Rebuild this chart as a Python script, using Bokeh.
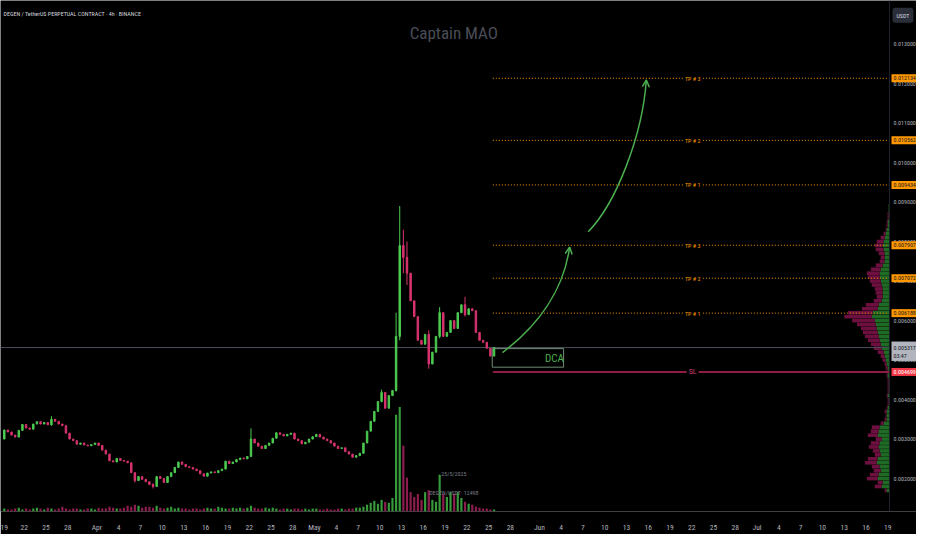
import pandas as pd
from bokeh.plotting import figure
from bokeh.models import (Range1d, FixedTicker, CustomJSTickFormatter, Label, Arrow, OpenHead, Span)
from bokeh.core.properties import value
from bokeh.embed import file_html
from bokeh.resources import INLINE

FONT = "Roboto Condensed, DejaVu Sans Condensed, Liberation Sans Narrow, Roboto, sans-serif"

def ms(s):
    return pd.Timestamp(s).value // 10**6

# ---------------- data ----------------
first_open = 0.00300
candle_start = "2025-03-19 00:00"          # 12h candles
closes = [0.00323, 0.00318, 0.00310, 0.00305, 0.00322, 0.00337, 0.00328, 0.00325, 0.00338, 0.00344,
          0.00338, 0.00342, 0.00336, 0.00350, 0.00345, 0.00338, 0.00334, 0.00315, 0.00300, 0.00296,
          0.00287, 0.00290, 0.00285, 0.00283, 0.00286, 0.00290, 0.00284, 0.00272, 0.00262, 0.00245,
          0.00242, 0.00251, 0.00246, 0.00244, 0.00240, 0.00215, 0.00195, 0.00205, 0.00198, 0.00192,
          0.00185, 0.00180, 0.00205, 0.00200, 0.00190, 0.00205, 0.00215, 0.00228, 0.00242, 0.00236,
          0.00230, 0.00228, 0.00224, 0.00220, 0.00212, 0.00206, 0.00214, 0.00217, 0.00215, 0.00220,
          0.00224, 0.00244, 0.00238, 0.00242, 0.00248, 0.00252, 0.00250, 0.00256, 0.00300, 0.00290,
          0.00282, 0.00276, 0.00284, 0.00290, 0.00302, 0.00316, 0.00312, 0.00308, 0.00312, 0.00315,
          0.00300, 0.00296, 0.00288, 0.00292, 0.00300, 0.00306, 0.00312, 0.00305, 0.00300, 0.00296,
          0.00290, 0.00282, 0.00276, 0.00278, 0.00268, 0.00262, 0.00254, 0.00258, 0.00264, 0.00290,
          0.00320, 0.00345, 0.00370, 0.00395, 0.00418, 0.00378, 0.00410, 0.00423, 0.00560, 0.00790,
          0.00760, 0.00720, 0.00650, 0.00610, 0.00550, 0.00540, 0.00565, 0.00490, 0.00520, 0.00560,
          0.00620, 0.00560, 0.00570, 0.00600, 0.00580, 0.00620, 0.00640, 0.00615, 0.00630, 0.00625,
          0.00570, 0.00550, 0.00545, 0.00530, 0.00510, 0.005317]
volumes_m = [3, 2, 2, 3, 4, 2, 3, 2, 3, 4, 3, 2, 4, 3, 2, 3, 5, 3, 2, 3, 3, 2,
             2, 3, 3, 2, 4, 3, 3, 5, 4, 3, 3, 4, 6, 5, 7, 6, 4, 5, 5, 4, 6, 4,
             3, 4, 5, 3, 4, 3, 3, 2, 3, 3, 2, 3, 4, 3, 3, 5, 4, 3, 3, 4, 3, 4,
             3, 4, 6, 4, 3, 3, 4, 3, 4, 3, 2, 3, 3, 2, 3, 3, 2, 3, 2, 3, 3, 2,
             2, 3, 2, 2, 3, 3, 2, 3, 3, 4, 4, 5,
             7, 9, 11, 8, 12, 10, 9, 14,
             100, 108, 68, 35, 20, 15, 18, 12, 20, 22, 12, 10, 38, 18, 15, 20, 18, 20,
             14, 10, 8, 7, 5, 4, 3, 3, 2, 2]
wick_idx = [13, 36, 41, 68, 104, 108, 109, 110, 111, 117, 120, 127]
wick_hi = [0.00358, 0.00215, 0.00188, 0.00327, 0.00425, 0.00620, 0.00890, 0.00830, 0.00800, 0.00575, 0.00634, 0.00660]
wick_lo = [0.00334, 0.00190, 0.00175, 0.00255, 0.00393, 0.00420, 0.00550, 0.00720, 0.00690, 0.00478, 0.00555, 0.00610]

# volume profile (price bins of 0.0001)
vp_first, vp_step = 0.0017, 0.0001
vp_up = [3, 8, 7, 12, 11, 9, 10, 13, 12, 9,
         10, 11, 10, 8, 12, 11, 10, 6, 3, 3,
         3, 2, 1, 1, 2, 1, 1, 1, 1, 2,
         2, 2, 3, 4, 5, 6, 8, 9, 10, 11,
         12, 13, 14, 15, 18, 17, 12, 11, 8, 7,
         7, 7, 8, 9, 10, 10, 9, 7, 5, 5,
         5, 6, 7, 6, 5, 4, 3, 2, 2, 1,
         1, 1, 1]
vp_down = [2, 7, 5, 11, 9, 7, 8, 12, 10, 6,
           7, 10, 9, 6, 10, 8, 8, 3, 2, 1,
           2, 1, 1, 1, 1, 1, 1, 1, 1, 1,
           1, 2, 2, 3, 4, 6, 8, 10, 12, 14,
           15, 16, 19, 23, 28, 25, 16, 13, 8, 6,
           7, 8, 10, 11, 12, 13, 10, 7, 5, 4,
           6, 8, 8, 7, 4, 2, 1, 1, 1, 1,
           1, 0, 0]

tp_levels = [0.012134, 0.010562, 0.009434, 0.007907, 0.007072, 0.006188]
tp_names = ["TP # 3", "TP # 2", "TP # 1", "TP # 3", "TP # 2", "TP # 1"]
sl_level = 0.004699
last_price = 0.005317
countdown = "03:47"
levels_start = "2025-05-25 14:00"
level_label_at = "2025-06-22 03:00"
dca_box = {"left": "2025-05-25 12:00", "right": "2025-06-04 08:00", "top": 0.00529, "bottom": 0.00482}
dca_text_at = ("2025-06-03 02:00", 0.00505)

arc_x0 = ["2025-05-26 22:00", "2025-06-07 17:30"]
arc_y0 = [0.00519, 0.00825]
arc_cx0 = ["2025-05-31 16:00", "2025-06-11 12:45"]
arc_cy0 = [0.00585, 0.00896]
arc_cx1 = ["2025-06-04 08:00", "2025-06-15 04:45"]
arc_cy1 = [0.00675, 0.01067]
arc_x1 = ["2025-06-05 04:00", "2025-06-15 17:45"]
arc_y1 = [0.00786, 0.01209]

price_ticks = [0.002, 0.003, 0.004, 0.005, 0.006, 0.007, 0.008, 0.009, 0.010, 0.011, 0.012, 0.013]
tick_months = [3, 4, 5, 6, 7]
tick_days = [1, 4, 7, 10, 13, 16, 19, 22, 25, 28]
month_names = ["Jan", "Feb", "Mar", "Apr", "May", "Jun", "Jul", "Aug", "Sep", "Oct", "Nov", "Dec"]

title_text = "DEGEN / TetherUS PERPETUAL CONTRACT · 4h · BINANCE"
watermark = "Captain MAO"
vol_date_text = "25/5/2025"
vol_sym_text = "DEGEN/USDT: 12498"

# ---------------- colors ----------------
UP, DOWN = "#4ccb50", "#d8336f"
VUP, VDOWN = "#369a3a", "#8e1d4f"
PUP, PDOWN = "#1f6a25", "#6d1040"
ORANGE = "#ff9800"
ARROW = "#4caf50"
AXIS_TXT = "#b2b5be"

# ---------------- derived ----------------
x_start = ms("2025-03-18 17:30")
x_chart_end = ms("2025-07-19 06:00")     # right edge of the candle area
x_full_end = ms("2025-07-22 23:20")      # includes the price-scale strip
HALF = 12 * 3600 * 1000
base = ms(candle_start)
times = [base + i * HALF + HALF // 2 for i in range(len(closes))]
opens = [first_open] + closes[:-1]
is_up = [c >= o for o, c in zip(opens, closes)]
body_top = [max(o, c) for o, c in zip(opens, closes)]
body_bot = [min(o, c) for o, c in zip(opens, closes)]
ccol = [UP if u else DOWN for u in is_up]
vcol = [VUP if u else VDOWN for u in is_up]
vp_price = [round(vp_first + vp_step * k, 4) for k in range(len(vp_up))]
vp_total = [u + d for u, d in zip(vp_up, vp_down)]

p = figure(width=916, height=534, x_range=Range1d(x_start, x_full_end),
           y_range=Range1d(0.0011665, 0.0141025), y_axis_location=None,
           output_backend="svg", toolbar_location=None,
           background_fill_color="#000000", border_fill_color="#000000", outline_line_color=None,
           min_border_left=0, min_border_top=0, min_border_right=0, min_border_bottom=18)
p.grid.visible = False
p.extra_y_ranges = {"vol": Range1d(0, 528)}
p.extra_x_ranges = {"vp": Range1d(903, -27.4)}

# volume
p.vbar(x=times, width=HALF * 0.6, top=volumes_m, bottom=0, y_range_name="vol",
       fill_color=vcol, line_color=None)
# volume profile
p.hbar(y=vp_price, height=vp_step * 0.92, left=0, right=vp_up, x_range_name="vp",
       fill_color=PUP, line_color=None)
p.hbar(y=vp_price, height=vp_step * 0.92, left=vp_up, right=vp_total, x_range_name="vp",
       fill_color=PDOWN, line_color=None)

# separator of the price scale
p.add_layout(Span(location=x_chart_end, dimension="height", line_color="#1e222d", line_width=1))

# last price line
p.segment(x0=[x_start], y0=[last_price], x1=[x_chart_end], y1=[last_price],
          line_color="#4a4e59", line_width=1)

# candles
wx = [times[i] for i in wick_idx]
wc = [ccol[i] for i in wick_idx]
p.segment(x0=wx, y0=wick_lo, x1=wx, y1=wick_hi, line_color=wc, line_width=1)
p.vbar(x=times, width=HALF * 0.4, top=body_top, bottom=body_bot, fill_color=ccol, line_color=ccol,
       line_width=1)

# TP levels
ls = ms(levels_start)
p.segment(x0=[ls] * len(tp_levels), y0=tp_levels, x1=[x_chart_end] * len(tp_levels), y1=tp_levels,
          line_color=ORANGE, line_dash="1 2", line_width=1)
for lv, nm in zip(tp_levels, tp_names):
    p.add_layout(Label(x=ms(level_label_at), y=lv, text=nm, text_align="center", text_baseline="middle",
                       text_font=FONT, text_font_size="6px", text_color=ORANGE,
                       background_fill_color="#000000", padding=2))
# SL
p.segment(x0=[ls], y0=[sl_level], x1=[x_chart_end], y1=[sl_level], line_color="#8c1c45", line_width=2)
p.add_layout(Label(x=ms(level_label_at), y=sl_level, text="SL", text_align="center", text_baseline="middle",
                   text_font=FONT, text_font_size="8px", text_color="#d0406e",
                   background_fill_color="#000000", padding=2))

# DCA box
p.quad(left=[ms(dca_box["left"])], right=[ms(dca_box["right"])], top=[dca_box["top"]],
       bottom=[dca_box["bottom"]], fill_alpha=0, line_color="#6e8f76", line_width=1)
p.add_layout(Label(x=ms(dca_text_at[0]), y=dca_text_at[1], text="DCA", text_align="center",
                   text_baseline="middle", text_font=FONT, text_font_size="11px", text_color=ARROW))

# arcs + heads
p.bezier(x0=[ms(v) for v in arc_x0], y0=arc_y0, x1=[ms(v) for v in arc_x1], y1=arc_y1,
         cx0=[ms(v) for v in arc_cx0], cy0=arc_cy0, cx1=[ms(v) for v in arc_cx1], cy1=arc_cy1,
         line_color=ARROW, line_width=1.5)
for k in range(len(arc_x0)):
    p.add_layout(Arrow(end=OpenHead(size=7, line_color=ARROW, line_width=1.5),
                       x_start=ms(arc_cx1[k]), y_start=arc_cy1[k], x_end=ms(arc_x1[k]), y_end=arc_y1[k],
                       line_alpha=0))

# texts
p.add_layout(Label(x=x_start, x_offset=3, y=0.01378, text=title_text, text_align="left",
                   text_baseline="middle", text_font=FONT, text_font_size="6px", text_color="#d1d4dc"))
p.add_layout(Label(x=ms("2025-05-20 05:00"), y=0.01329, text=watermark, text_align="center",
                   text_baseline="middle", text_font=FONT, text_font_size="17px", text_color="#4a4d57"))
p.add_layout(Label(x=ms("2025-05-20 05:00"), y=0.00212, text=vol_date_text, text_align="center",
                   text_baseline="middle", text_font=FONT, text_font_size="6px", text_color="#787b86"))
p.add_layout(Label(x=ms("2025-05-20 05:00"), y=0.00166, text=vol_sym_text, text_align="center",
                   text_baseline="middle", text_font=FONT, text_font_size="6px", text_color="#787b86"))

# price scale labels
p.text(x=[x_chart_end] * len(price_ticks), y=price_ticks, text=[f"{t:.6f}" for t in price_ticks],
       x_offset=4, text_align="left", text_baseline="middle", text_font=value(FONT),
       text_font_size="6px", text_color=AXIS_TXT)

# price tags on the scale
for lv in tp_levels:
    p.add_layout(Label(x=x_chart_end, x_offset=2, y=lv, text=f"{lv:.6f}", text_align="left",
                       text_baseline="middle", text_font=FONT, text_font_size="6px", text_color="#131722",
                       background_fill_color=ORANGE, padding=2))
p.add_layout(Label(x=x_chart_end, x_offset=2, y=sl_level, text=f"{sl_level:.6f}", text_align="left",
                   text_baseline="middle", text_font=FONT, text_font_size="6px", text_color="#ffffff",
                   background_fill_color="#f23645", padding=2))
p.add_layout(Label(x=x_chart_end, x_offset=2, y=last_price, y_offset=6, text=f"{last_price:.6f}\n{countdown}",
                   text_align="left", text_baseline="top", text_font=FONT, text_font_size="6px",
                   text_color="#131722", background_fill_color="#b2b5be", padding=2))
p.add_layout(Label(x=x_chart_end, x_offset=3, y=0.01373, text="USDT", text_align="left", text_baseline="middle",
                   text_font=FONT, text_font_size="6px", text_color="#d1d4dc",
                   background_fill_color="#2a2e39", padding=4, border_radius=3))

# time axis
ticks = [ms(f"2025-{m:02d}-{d:02d}") for m in tick_months for d in tick_days
         if x_start <= ms(f"2025-{m:02d}-{d:02d}") <= x_chart_end]
xa = p.xaxis[0]
xa.ticker = FixedTicker(ticks=ticks)
xa.formatter = CustomJSTickFormatter(args=dict(months=month_names), code="""
const d = new Date(tick);
const day = d.getUTCDate();
return day == 1 ? months[d.getUTCMonth()] : String(day);
""")
xa.axis_line_color = None
xa.major_tick_line_color = None
xa.minor_tick_line_color = None
xa.major_label_text_color = AXIS_TXT
xa.major_label_text_font = FONT
xa.major_label_text_font_size = "7.5px"
xa.major_label_standoff = 5

open("out.html", "w").write(file_html(p, INLINE))
